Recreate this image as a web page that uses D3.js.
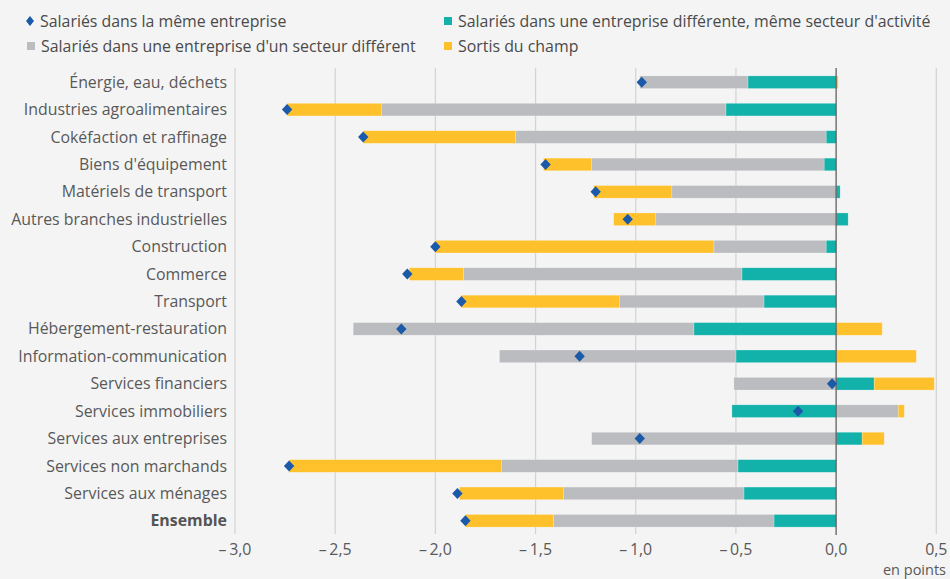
<!DOCTYPE html>
<html>
<head>
<meta charset="utf-8">
<script src="https://cdn.jsdelivr.net/npm/d3@7"></script>
<style>
  body { margin: 0; background: #f4f4f4; }
  svg { display: block; font-family: "Open Sans", sans-serif; }
</style>
</head>
<body>
<svg width="950" height="579"></svg>
<script>
// secteurs, du haut vers le bas
var categories = [
  "Énergie, eau, déchets", "Industries agroalimentaires", "Cokéfaction et raffinage",
  "Biens d'équipement", "Matériels de transport", "Autres branches industrielles",
  "Construction", "Commerce", "Transport", "Hébergement-restauration",
  "Information-communication", "Services financiers", "Services immobiliers",
  "Services aux entreprises", "Services non marchands", "Services aux ménages", "Ensemble"
];
var sameSector  = [-0.44, -0.55, -0.05, -0.06, 0.02, 0.06, -0.05, -0.47, -0.36, -0.71, -0.50, 0.19, -0.52, 0.13, -0.49, -0.46, -0.31];
var otherSector = [-0.54, -1.72, -1.55, -1.16, -0.82, -0.90, -0.56, -1.39, -0.72, -1.70, -1.18, -0.51, 0.31, -1.22, -1.18, -0.90, -1.10];
var outOfScope  = [0.01, -0.47, -0.76, -0.24, -0.39, -0.21, -1.39, -0.27, -0.79, 0.23, 0.40, 0.30, 0.03, 0.11, -1.06, -0.52, -0.44];
var sameFirm    = [-0.97, -2.74, -2.36, -1.45, -1.20, -1.04, -2.00, -2.14, -1.87, -2.17, -1.28, -0.02, -0.19, -0.98, -2.73, -1.89, -1.85];
var xTicks = [-3, -2.5, -2, -1.5, -1, -0.5, 0, 0.5];

var svg = d3.select("svg"),
    width = +svg.attr("width"),
    height = +svg.attr("height");

var colors = { sameSector: "#12b2aa", otherSector: "#bbbcbf", outOfScope: "#ffc12b" };
var blue = "#1b5aa8";
var fs = 15.9;

var rows = categories.map(function(c, i) {
  return { cat: c, sameSector: sameSector[i], otherSector: otherSector[i], outOfScope: outOfScope[i], sameFirm: sameFirm[i] };
});

var x = d3.scaleLinear().domain([-3, 0.5]).range([235, 936.3]);
var y = d3.scaleBand().domain(categories).range([68.5, 534.5]).paddingInner(0.54).paddingOuter(0.27);

var series = d3.stack()
    .keys(["sameSector", "otherSector", "outOfScope"])
    .offset(d3.stackOffsetDiverging)(rows);

// grille
svg.append("g")
  .selectAll("line")
  .data(xTicks.filter(function(t) { return t !== 0; }))
  .enter().append("line")
    .attr("x1", function(d) { return x(d); })
    .attr("x2", function(d) { return x(d); })
    .attr("y1", 68).attr("y2", 534)
    .attr("stroke", "#d2d2d2").attr("stroke-width", 1.2);

// barres
svg.append("g")
  .selectAll("g")
  .data(series)
  .enter().append("g")
    .attr("fill", function(s) { return colors[s.key]; })
  .selectAll("rect")
  .data(function(s) { return s; })
  .enter().append("rect")
    .attr("x", function(d) { return x(Math.min(d[0], d[1])); })
    .attr("width", function(d) { return Math.abs(x(d[1]) - x(d[0])); })
    .attr("y", function(d) { return y(d.data.cat); })
    .attr("height", y.bandwidth())
    .attr("stroke", "rgba(255,255,255,0.35)").attr("stroke-width", 0.6);

// axe zéro
svg.append("line")
    .attr("x1", x(0)).attr("x2", x(0))
    .attr("y1", 68).attr("y2", 535)
    .attr("stroke", "#555").attr("stroke-width", 1.2);

// losanges
svg.append("g")
  .selectAll("path")
  .data(rows)
  .enter().append("path")
    .attr("d", "M0,-5.5L5.2,0L0,5.5L-5.2,0Z")
    .attr("transform", function(d) { return "translate(" + x(d.sameFirm) + "," + (y(d.cat) + y.bandwidth() / 2) + ")"; })
    .attr("fill", blue);

// libellés
svg.append("g")
  .selectAll("text")
  .data(categories)
  .enter().append("text")
    .attr("x", 227)
    .attr("y", function(d) { return y(d) + y.bandwidth() / 2; })
    .attr("dy", "0.35em")
    .attr("text-anchor", "end")
    .attr("font-size", fs)
    .attr("font-weight", function(d) { return d === "Ensemble" ? 700 : 400; })
    .attr("fill", function(d) { return d === "Ensemble" ? "#555" : "#595959"; })
    .text(function(d) { return d; });

// axe x
var fmt = d3.format(".1f");
svg.append("g")
  .selectAll("text")
  .data(xTicks)
  .enter().append("text")
    .attr("x", function(d) { return x(d); })
    .attr("y", 555)
    .attr("text-anchor", "middle")
    .attr("font-size", fs)
    .attr("fill", "#595959")
    .text(function(d) { return (d < 0 ? "\u2013\u2009" : "") + fmt(Math.abs(d)).replace(".", ","); });

svg.append("text")
    .attr("x", 946).attr("y", 575)
    .attr("text-anchor", "end")
    .attr("font-size", 14.5)
    .attr("fill", "#595959")
    .text("en points");

// légende
var legend = [
  { label: "Salariés dans la même entreprise", shape: "diamond", color: blue, lx: 30, ly: 21 },
  { label: "Salariés dans une entreprise différente, même secteur d'activité", shape: "square", color: colors.sameSector, lx: 448, ly: 21 },
  { label: "Salariés dans une entreprise d'un secteur différent", shape: "square", color: colors.otherSector, lx: 31, ly: 46 },
  { label: "Sortis du champ", shape: "square", color: colors.outOfScope, lx: 448, ly: 46 }
];
var lg = svg.append("g").selectAll("g").data(legend).enter().append("g")
    .attr("transform", function(d) { return "translate(" + d.lx + "," + d.ly + ")"; });
lg.append("path")
    .attr("d", function(d) { return d.shape === "diamond" ? "M0,-5L4,0L0,5L-4,0Z" : "M-4,-4H4V4H-4Z"; })
    .attr("fill", function(d) { return d.color; });
lg.append("text")
    .attr("x", 10).attr("dy", "0.35em")
    .attr("font-size", fs)
    .attr("fill", "#4a4a4a")
    .text(function(d) { return d.label; });
</script>
</body>
</html>
